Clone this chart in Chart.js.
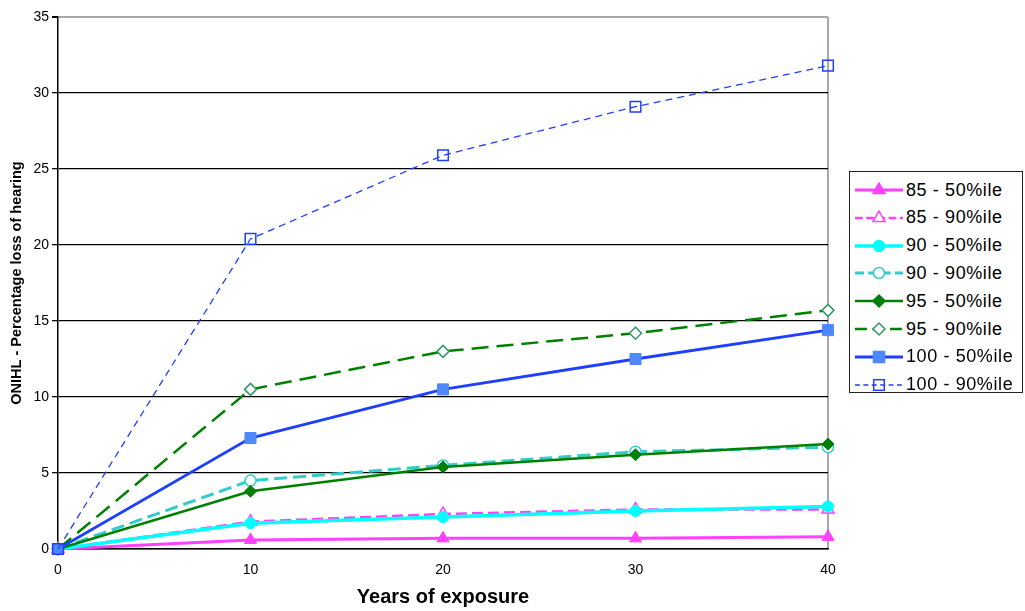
<!DOCTYPE html>
<html>
<head>
<meta charset="utf-8">
<script src="https://cdn.jsdelivr.net/npm/chart.js@4/dist/chart.umd.min.js"></script>
<style>
  html, body { margin: 0; padding: 0; background: #fff; }
  #wrap { position: relative; width: 1025px; height: 611px; }
  #legend { position: absolute; left: 849px; top: 171px; width: 174px; height: 222px;
    border: 1px solid #222; background: #fff; box-sizing: border-box;
    font-family: "Liberation Sans", Arial, sans-serif; font-size: 18px; letter-spacing: 0.6px; color: #000; }
  .row { position: absolute; left: 4px; height: 28px; display: flex; align-items: center; white-space: nowrap; }
  .row svg { margin-right: 2px; }
</style>
</head>
<body>
<div id="wrap">
  <canvas id="c" width="1025" height="611"></canvas>
  <div id="legend"></div>
</div>
<script>
const years = [0, 10, 20, 30, 40];
const yTicks = [0, 5, 10, 15, 20, 25, 30, 35];
const seriesNames = ["85 - 50%ile", "85 - 90%ile", "90 - 50%ile", "90 - 90%ile",
                     "95 - 50%ile", "95 - 90%ile", "100 - 50%ile", "100 - 90%ile"];
const s85_50  = [0, 0.6, 0.7, 0.7, 0.8];
const s85_90  = [0, 1.8, 2.3, 2.6, 2.6];
const s90_50  = [0, 1.7, 2.1, 2.5, 2.8];
const s90_90  = [0, 4.5, 5.5, 6.4, 6.7];
const s95_50  = [0, 3.8, 5.4, 6.2, 6.9];
const s95_90  = [0, 10.5, 13.0, 14.2, 15.7];
const s100_50 = [0, 7.3, 10.5, 12.5, 14.4];
const s100_90 = [0, 20.4, 25.9, 29.1, 31.8];
const seriesValues = [s85_50, s85_90, s90_50, s90_90, s95_50, s95_90, s100_50, s100_90];

const NONE = 'rgba(0,0,0,0)';
const styles = [
  { line: '#FF40FF', width: 3,   dash: [],      shape: 'triangle', r: 7,   fill: '#FF40FF', stroke: '#FF40FF' },
  { line: '#FF40FF', width: 2.5, dash: [11, 5], shape: 'triangle', r: 7,   fill: '#FFFFFF', stroke: '#FF40FF' },
  { line: '#00FFFF', width: 3.5, dash: [],      shape: 'circle',   r: 5.5, fill: '#00FFFF', stroke: '#00FFFF' },
  { line: '#33CCCC', width: 3,   dash: [13, 6], shape: 'circle',   r: 5.5, fill: '#FFFFFF', stroke: '#33CCCC' },
  { line: '#008000', width: 2.5, dash: [],      shape: 'rectRot',  r: 6,   fill: '#008000', stroke: '#008000' },
  { line: '#008000', width: 2.5, dash: [17, 8], shape: 'rectRot',  r: 6,   fill: '#FFFFFF', stroke: '#339966' },
  { line: '#1F3FFF', width: 2.8, dash: [],      shape: 'rect',     r: 7.8, fill: '#4D88FF', stroke: '#4D88FF' },
  { line: '#1F3FFF', width: 1.3, dash: [7, 5],  shape: 'rect',     r: 7.5, fill: NONE,      stroke: '#1F3FFF' }
];

const datasets = seriesNames.map((name, i) => ({
  label: name,
  data: years.map((x, j) => ({ x: x, y: seriesValues[i][j] })),
  borderColor: styles[i].line,
  borderWidth: styles[i].width,
  borderDash: styles[i].dash,
  pointStyle: styles[i].shape,
  pointRadius: styles[i].r,
  pointHoverRadius: styles[i].r,
  pointBackgroundColor: styles[i].fill,
  pointBorderColor: styles[i].stroke,
  pointBorderWidth: styles[i].fill === styles[i].stroke ? 1 : 1.5,
  tension: 0,
  fill: false,
  clip: false,
  order: seriesNames.length - i
}));

const tickFont = { family: '"Liberation Sans", Arial, sans-serif', size: 14 };

new Chart(document.getElementById('c'), {
  type: 'line',
  data: { datasets },
  options: {
    responsive: false,
    animation: false,
    events: [],
    layout: { padding: { left: 0, top: 17, right: 197, bottom: 0 } },
    plugins: { legend: { display: false }, tooltip: { enabled: false } },
    scales: {
      x: {
        type: 'linear', min: 0, max: 40,
        afterBuildTicks: s => { s.ticks = years.map(v => ({ value: v })); },
        afterFit: s => { s.height = 62; },
        grid: {
          drawTicks: false,
          color: ctx => (ctx.tick && ctx.tick.value === 40) ? '#A8A8A8' : 'rgba(0,0,0,0)',
          lineWidth: 2
        },
        border: { color: '#000', width: 1.5 },
        ticks: { color: '#000', padding: 13, maxRotation: 0, font: tickFont },
        title: { display: true, text: 'Years of exposure', color: '#000',
          font: { family: '"Liberation Sans", Arial, sans-serif', size: 20, weight: 'bold' },
          padding: { top: 0, bottom: 2 } }
      },
      y: {
        type: 'linear', min: 0, max: 35,
        afterBuildTicks: s => { s.ticks = yTicks.map(v => ({ value: v })); },
        afterFit: s => { s.width = 58; },
        grid: {
          drawTicks: true, tickLength: 6, tickColor: '#000',
          color: ctx => (ctx.tick && ctx.tick.value === 35) ? '#A8A8A8' : '#000',
          lineWidth: ctx => (ctx.tick && ctx.tick.value === 35) ? 2 : 1.3
        },
        border: { color: '#000', width: 1.5 },
        ticks: { color: '#000', padding: 3, font: tickFont },
        title: { display: true, text: 'ONIHL - Percentage loss of hearing', color: '#000',
          font: { family: '"Liberation Sans", Arial, sans-serif', size: 14.5, weight: 'bold' },
          padding: { top: 8, bottom: 0 } }
      }
    }
  }
});

// HTML legend built from the same styles/names
const legend = document.getElementById('legend');
function markerSVG(st, cx, cy) {
  const r = st.r;
  const fill = st.fill === NONE ? 'none' : st.fill;
  if (st.shape === 'triangle') {
    const h = r * 1.5, w = r * Math.sqrt(3);
    return `<polygon points="${cx},${cy - r} ${cx + w / 2},${cy - r + h} ${cx - w / 2},${cy - r + h}" fill="${fill}" stroke="${st.stroke}" stroke-width="1.5"/>`;
  }
  if (st.shape === 'circle') {
    return `<circle cx="${cx}" cy="${cy}" r="${r}" fill="${fill}" stroke="${st.stroke}" stroke-width="1.5"/>`;
  }
  if (st.shape === 'rectRot') {
    return `<polygon points="${cx},${cy - r} ${cx + r},${cy} ${cx},${cy + r} ${cx - r},${cy}" fill="${fill}" stroke="${st.stroke}" stroke-width="1.5"/>`;
  }
  const s = r * Math.SQRT1_2;
  return `<rect x="${cx - s}" y="${cy - s}" width="${2 * s}" height="${2 * s}" fill="${fill}" stroke="${st.stroke}" stroke-width="1.5"/>`;
}
seriesNames.forEach((name, i) => {
  const st = styles[i];
  const row = document.createElement('div');
  row.className = 'row';
  row.style.top = (4 + i * 27.8) + 'px';
  const dash = st.dash.length ? `stroke-dasharray="${st.dash.map(d => d * 0.7).join(' ')}"` : '';
  row.innerHTML = `<svg width="50" height="20" viewBox="0 0 50 20">
      <line x1="1" y1="10" x2="49" y2="10" stroke="${st.line}" stroke-width="${st.width}" ${dash}/>
      ${markerSVG(st, 25, 10)}
    </svg><span>${name}</span>`;
  legend.appendChild(row);
});
</script>
</body>
</html>
